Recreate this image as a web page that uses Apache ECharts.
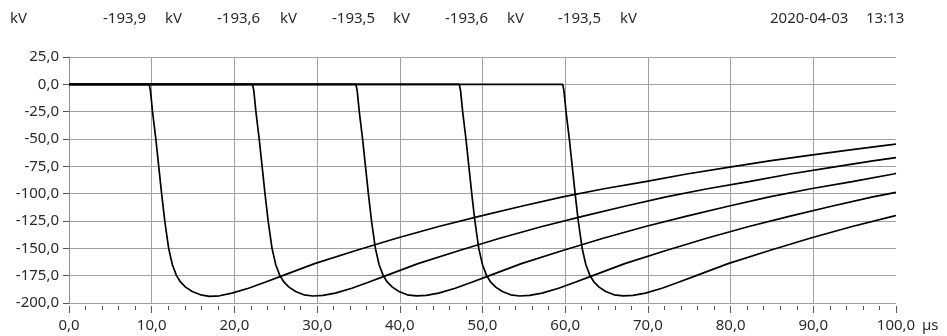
<!DOCTYPE html>
<html>
<head>
<meta charset="utf-8">
<script src="https://cdn.jsdelivr.net/npm/echarts@6.0.0/dist/echarts.min.js"></script>
<style>
  html, body { margin: 0; padding: 0; background: #fff; }
  #chart { width: 947px; height: 336px; }
</style>
</head>
<body>
<div id="chart"></div>
<script>
// five negative impulses, [time µs, voltage kV]
const shot1 = [[0,0],[9.7,0],[9.85,-6],[10.1,-25],[10.5,-50],[10.85,-75],[11.2,-100],[11.58,-125],[12.05,-150],[12.5,-165],[13.0,-175],[13.5,-181],[14.1,-185.5],[14.9,-189.5],[15.9,-192.5],[17.0,-193.9],[18.2,-193.4],[19.7,-191],[21.7,-186.5],[23.7,-181],[26.0,-174.5],[29.7,-164],[34.7,-152],[39.7,-140.5],[44.7,-130],[49.7,-120.5],[54.7,-111.5],[59.7,-103],[64.7,-95.5],[69.7,-89],[74.7,-82],[79.7,-76],[84.7,-70],[89.7,-64.8],[94.7,-59.8],[99.7,-55],[100,-54.7]];
const shot2 = [[0,0],[22.2,0],[22.35,-6],[22.6,-25],[23.0,-50],[23.35,-75],[23.7,-100],[24.08,-125],[24.55,-150],[25.0,-165],[25.5,-175],[26.0,-181],[26.6,-185.5],[27.4,-189.5],[28.4,-192.5],[29.5,-193.6],[30.7,-193.1],[32.2,-191],[34.2,-186.5],[36.2,-181],[38.5,-174.5],[42.2,-164],[47.2,-152],[52.2,-140.5],[57.2,-130],[62.2,-120.5],[67.2,-111.5],[72.2,-103],[77.2,-95.5],[82.2,-89],[87.2,-82],[92.2,-76],[97.2,-70],[100,-67]];
const shot3 = [[0,0],[34.7,0],[34.85,-6],[35.1,-25],[35.5,-50],[35.85,-75],[36.2,-100],[36.58,-125],[37.05,-150],[37.5,-165],[38.0,-175],[38.5,-181],[39.1,-185.5],[39.9,-189.5],[40.9,-192.5],[42.0,-193.5],[43.2,-193],[44.7,-191],[46.7,-186.5],[48.7,-181],[51.0,-174.5],[54.7,-164],[59.7,-152],[64.7,-140.5],[69.7,-130],[74.7,-120.5],[79.7,-111.5],[84.7,-103],[89.7,-95.5],[94.7,-89],[99.7,-82],[100,-81.5]];
const shot4 = [[0,0],[47.2,0],[47.35,-6],[47.6,-25],[48.0,-50],[48.35,-75],[48.7,-100],[49.08,-125],[49.55,-150],[50.0,-165],[50.5,-175],[51.0,-181],[51.6,-185.5],[52.4,-189.5],[53.4,-192.5],[54.5,-193.6],[55.7,-193.1],[57.2,-191],[59.2,-186.5],[61.2,-181],[63.5,-174.5],[67.2,-164],[72.2,-152],[77.2,-140.5],[82.2,-130],[87.2,-120.5],[92.2,-111.5],[97.2,-103],[100,-98.8]];
const shot5 = [[0,0],[59.7,0],[59.85,-6],[60.1,-25],[60.5,-50],[60.85,-75],[61.2,-100],[61.58,-125],[62.05,-150],[62.5,-165],[63.0,-175],[63.5,-181],[64.1,-185.5],[64.9,-189.5],[65.9,-192.5],[67.0,-193.5],[68.2,-193],[69.7,-191],[71.7,-186.5],[73.7,-181],[76.0,-174.5],[79.7,-164],[84.7,-152],[89.7,-140.5],[94.7,-130],[99.7,-120.5],[100,-120]];
const shots = [shot1, shot2, shot3, shot4, shot5];

// header readout: peak per shot, then timestamp
const peakLabels = ["-193,9", "-193,6", "-193,5", "-193,6", "-193,5"];
const stampDate = "2020-04-03";
const stampTime = "13:13";

const FONT = "'Noto Sans', sans-serif";
const TXT = "#2a2a2a";
const comma = v => v.toFixed(1).replace(".", ",");

const chart = echarts.init(document.getElementById("chart"), null, { renderer: "canvas" });

const txt = (x, y, s) => ({
  type: "text", left: x, top: y,
  style: { text: s, fontSize: 15, fontFamily: FONT, fill: TXT },
});
const headerX = [[103, 165], [217, 280], [332, 393], [445, 507], [558, 620]];
const header = [txt(10, 11, "kV")];
peakLabels.forEach((p, i) => {
  header.push(txt(headerX[i][0], 11, p));
  header.push(txt(headerX[i][1], 11, "kV"));
});
header.push(txt(770, 11, stampDate));
header.push(txt(866, 11, stampTime));
header.push(txt(922, 318, "µs"));

chart.setOption({
  animation: false,
  backgroundColor: "#fff",
  grid: { left: 69, right: 51, top: 57, bottom: 33 },
  xAxis: {
    type: "value",
    min: 0, max: 100, interval: 10,
    offset: 3,
    axisLine: { show: false, onZero: false },
    axisTick: { show: true, length: 7, lineStyle: { color: "#555" } },
    minorTick: { show: true, splitNumber: 5, length: 4, lineStyle: { color: "#555" } },
    axisLabel: { color: TXT, fontFamily: FONT, fontSize: 15, margin: 12, formatter: comma },
    splitLine: { show: true, showMinLine: false, showMaxLine: false, lineStyle: { color: "#a0a0a0", width: 1 } },
  },
  yAxis: {
    type: "value",
    min: -200, max: 25, interval: 25,
    axisLine: { show: true, onZero: false, lineStyle: { color: "#8c8c8c" } },
    axisTick: { show: true, length: 6, lineStyle: { color: "#555" } },
    axisLabel: { color: TXT, fontFamily: FONT, fontSize: 15, margin: 10, formatter: comma },
    splitLine: { show: true, lineStyle: { color: "#a0a0a0", width: 1 } },
  },
  series: shots.map((s, i) => ({
    name: "shot" + (i + 1),
    type: "line",
    data: s,
    showSymbol: false,
    smooth: false,
    lineStyle: { color: "#000", width: 1.7 },
    z: 3,
  })),
  graphic: header,
});
</script>
</body>
</html>
